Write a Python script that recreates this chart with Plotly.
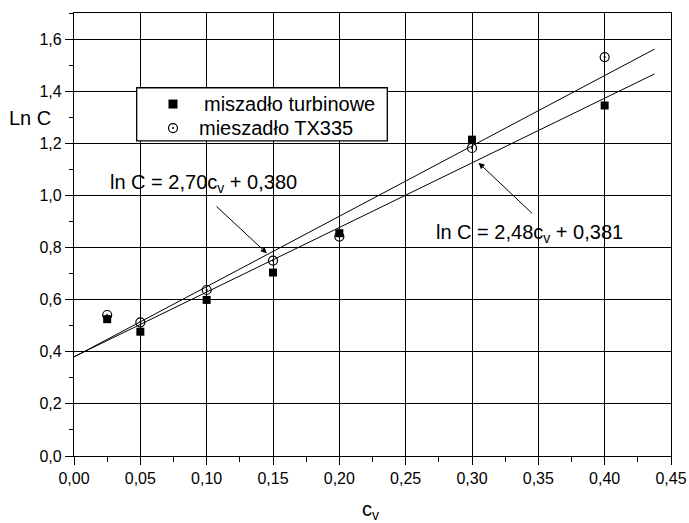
import plotly.graph_objects as go

# ---- data ----
cv = [0.025, 0.05, 0.10, 0.15, 0.20, 0.30, 0.40]
lnc_turbinowe = [0.525, 0.477, 0.599, 0.704, 0.855, 1.214, 1.345]
lnc_tx335 = [0.541, 0.513, 0.637, 0.750, 0.842, 1.182, 1.531]

fit_x = [0.0, 0.4375]
fit1_slope, fit1_icpt = 2.70, 0.380
fit2_slope, fit2_icpt = 2.48, 0.381

x_tickvals = [0.00, 0.05, 0.10, 0.15, 0.20, 0.25, 0.30, 0.35, 0.40, 0.45]
x_ticktext = ["0,00", "0,05", "0,10", "0,15", "0,20", "0,25", "0,30", "0,35", "0,40", "0,45"]
y_tickvals = [0.0, 0.2, 0.4, 0.6, 0.8, 1.0, 1.2, 1.4, 1.6]
y_ticktext = ["0,0", "0,2", "0,4", "0,6", "0,8", "1,0", "1,2", "1,4", "1,6"]

legend_labels = ["miszadło turbinowe", "mieszadło TX335"]

FONT = "Arial, Liberation Sans, sans-serif"

fig = go.Figure()

fig.add_trace(go.Scatter(
    x=fit_x, y=[fit1_slope * v + fit1_icpt for v in fit_x],
    mode="lines", line=dict(color="black", width=1), showlegend=False, hoverinfo="skip"))
fig.add_trace(go.Scatter(
    x=fit_x, y=[fit2_slope * v + fit2_icpt for v in fit_x],
    mode="lines", line=dict(color="black", width=1), showlegend=False, hoverinfo="skip"))

fig.add_trace(go.Scatter(
    x=cv, y=lnc_turbinowe, mode="markers", name=legend_labels[0], showlegend=False,
    marker=dict(symbol="square", size=8, color="black", line=dict(width=0))))
fig.add_trace(go.Scatter(
    x=cv, y=lnc_tx335, mode="markers", name=legend_labels[1], showlegend=False,
    marker=dict(symbol="circle-open-dot", size=9, color="black", line=dict(width=1.2))))

axis_common = dict(
    showline=True, linecolor="black", linewidth=1.3, mirror=True,
    showgrid=True, gridcolor="black", gridwidth=1, automargin=False,
    zeroline=False, ticks="outside", tickcolor="black", ticklen=8, tickwidth=1.3,
    tickfont=dict(family=FONT, size=16, color="black"),
)

fig.update_xaxes(
    range=[0, 0.45], tickvals=x_tickvals, ticktext=x_ticktext,
    minor=dict(dtick=0.025, tick0=0, ticks="outside", ticklen=5, tickcolor="black", tickwidth=1.3, showgrid=False),
    **axis_common)
fig.update_yaxes(
    range=[0, 1.7], tickvals=y_tickvals, ticktext=y_ticktext,
    minor=dict(dtick=0.1, tick0=0, ticks="outside", ticklen=4, tickcolor="black", tickwidth=1.3, showgrid=False),
    **axis_common)

# ---- legend box (drawn manually to match the compact original) ----
lg_x0, lg_x1, lg_y0, lg_y1 = 0.105, 0.5248, 0.7115, 0.8313
sym_x = 0.1658
row_y = [0.7945, 0.7402]
txt_x = [0.2144, 0.2060]

shapes = [
    dict(type="rect", xref="paper", yref="paper", x0=lg_x0, x1=lg_x1, y0=lg_y0, y1=lg_y1,
         line=dict(color="black", width=1.3), fillcolor="white", layer="above"),
    dict(type="rect", xref="paper", yref="paper", xsizemode="pixel", ysizemode="pixel",
         xanchor=sym_x, yanchor=row_y[0], x0=-4.5, x1=4.5, y0=-4.5, y1=4.5,
         line=dict(width=0), fillcolor="black", layer="above"),
    dict(type="circle", xref="paper", yref="paper", xsizemode="pixel", ysizemode="pixel",
         xanchor=sym_x, yanchor=row_y[1], x0=-4.5, x1=4.5, y0=-4.5, y1=4.5,
         line=dict(color="black", width=1.2), fillcolor="white", layer="above"),
    dict(type="circle", xref="paper", yref="paper", xsizemode="pixel", ysizemode="pixel",
         xanchor=sym_x, yanchor=row_y[1], x0=-1, x1=1, y0=-1, y1=1,
         line=dict(width=0), fillcolor="black", layer="above"),
]

annotations = [
    dict(text=legend_labels[i], xref="paper", yref="paper", x=txt_x[i], y=row_y[i],
         xanchor="left", yanchor="middle", showarrow=False,
         font=dict(family=FONT, size=20, color="black"))
    for i in range(2)
]
annotations += [
    dict(text="Ln C", xref="paper", yref="paper", x=-0.112, y=0.763,
         xanchor="left", yanchor="middle", showarrow=False,
         font=dict(family=FONT, size=20, color="black")),
    dict(text="c<sub>v</sub>", xref="paper", yref="paper", x=0.497, y=-0.091,
         xanchor="center", yanchor="top", showarrow=False,
         font=dict(family=FONT, size=20, color="black")),
    dict(text="ln C = 2,70c<sub>v</sub> + 0,380", x=0.0977, y=1.045,
         xref="x", yref="y", xanchor="center", yanchor="middle", showarrow=False,
         font=dict(family=FONT, size=20, color="black")),
    dict(text="", x=0.1453, y=0.778, ax=0.1063, ay=0.963,
         xref="x", yref="y", axref="x", ayref="y",
         showarrow=True, arrowhead=2, arrowsize=1.2, arrowwidth=1, arrowcolor="black",
         standoff=0),
    dict(text="ln C = 2,48c<sub>v</sub> + 0,381", x=0.3430, y=0.853,
         xref="x", yref="y", xanchor="center", yanchor="middle", showarrow=False,
         font=dict(family=FONT, size=20, color="black")),
    dict(text="", x=0.305, y=1.125, ax=0.3464, ay=0.926,
         xref="x", yref="y", axref="x", ayref="y",
         showarrow=True, arrowhead=2, arrowsize=1.2, arrowwidth=1, arrowcolor="black",
         standoff=0),
]

fig.update_layout(
    width=689, height=523,
    margin=dict(l=74, r=18, t=13, b=67),
    plot_bgcolor="white", paper_bgcolor="white",
    font=dict(family=FONT, color="black"),
    showlegend=False,
    shapes=shapes,
    annotations=annotations,
)

fig.write_html("out.html")
